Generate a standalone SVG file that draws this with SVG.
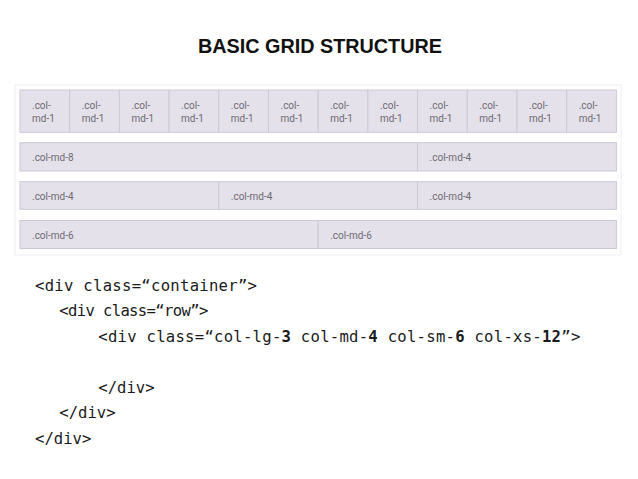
<svg xmlns="http://www.w3.org/2000/svg" width="638" height="479" viewBox="0 0 638 479">
<style>
.cell{fill:#e4e1ea;stroke:#cdc8d5;stroke-width:1}
.lbl{font-family:Roboto,"Liberation Sans",sans-serif;font-size:10px;fill:#6f6a72}
.code{font-family:"DejaVu Sans Mono","Liberation Mono",monospace;font-size:15.6px;fill:#1a1a1a}
.b{font-weight:bold}
</style>
<rect width="638" height="479" fill="#ffffff"/>
<text x="320" y="53" text-anchor="middle" font-family="'Liberation Sans',Arial,sans-serif" font-weight="bold" font-size="19.8" fill="#111">BASIC GRID STRUCTURE</text>
<g id="container">
<rect x="15" y="85" width="606" height="170" fill="#ffffff" stroke="#eceef2" stroke-width="1"/>
</g>
<g id="row1">
<rect class="cell" x="20" y="90" width="49.7" height="42.3"/>
<rect class="cell" x="69.7" y="90" width="49.7" height="42.3"/>
<rect class="cell" x="119.4" y="90" width="49.7" height="42.3"/>
<rect class="cell" x="169.1" y="90" width="49.7" height="42.3"/>
<rect class="cell" x="218.8" y="90" width="49.7" height="42.3"/>
<rect class="cell" x="268.5" y="90" width="49.7" height="42.3"/>
<rect class="cell" x="318.2" y="90" width="49.7" height="42.3"/>
<rect class="cell" x="367.9" y="90" width="49.7" height="42.3"/>
<rect class="cell" x="417.6" y="90" width="49.7" height="42.3"/>
<rect class="cell" x="467.3" y="90" width="49.7" height="42.3"/>
<rect class="cell" x="517" y="90" width="49.7" height="42.3"/>
<rect class="cell" x="566.7" y="90" width="49.7" height="42.3"/>
<g class="lbl">
<text x="32" y="108.5">.col-</text><text x="32" y="121.5">md-1</text>
<text x="81.7" y="108.5">.col-</text><text x="81.7" y="121.5">md-1</text>
<text x="131.4" y="108.5">.col-</text><text x="131.4" y="121.5">md-1</text>
<text x="181.1" y="108.5">.col-</text><text x="181.1" y="121.5">md-1</text>
<text x="230.8" y="108.5">.col-</text><text x="230.8" y="121.5">md-1</text>
<text x="280.5" y="108.5">.col-</text><text x="280.5" y="121.5">md-1</text>
<text x="330.2" y="108.5">.col-</text><text x="330.2" y="121.5">md-1</text>
<text x="379.9" y="108.5">.col-</text><text x="379.9" y="121.5">md-1</text>
<text x="429.6" y="108.5">.col-</text><text x="429.6" y="121.5">md-1</text>
<text x="479.3" y="108.5">.col-</text><text x="479.3" y="121.5">md-1</text>
<text x="529" y="108.5">.col-</text><text x="529" y="121.5">md-1</text>
<text x="578.7" y="108.5">.col-</text><text x="578.7" y="121.5">md-1</text>
</g>
</g>
<g id="row2">
<rect class="cell" x="20" y="142.7" width="397.6" height="28.3"/>
<rect class="cell" x="417.6" y="142.7" width="198.8" height="28.3"/>
<text class="lbl" x="32" y="160.8">.col-md-8</text>
<text class="lbl" x="429.6" y="160.8">.col-md-4</text>
</g>
<g id="row3">
<rect class="cell" x="20" y="181.7" width="198.8" height="27.6"/>
<rect class="cell" x="218.8" y="181.7" width="198.8" height="27.6"/>
<rect class="cell" x="417.6" y="181.7" width="198.8" height="27.6"/>
<text class="lbl" x="32" y="199.5">.col-md-4</text>
<text class="lbl" x="230.8" y="199.5">.col-md-4</text>
<text class="lbl" x="429.6" y="199.5">.col-md-4</text>
</g>
<g id="row4">
<rect class="cell" x="20" y="220.5" width="298.2" height="28"/>
<rect class="cell" x="318.2" y="220.5" width="298.2" height="28"/>
<text class="lbl" x="32" y="238.5">.col-md-6</text>
<text class="lbl" x="330.2" y="238.5">.col-md-6</text>
</g>
<g id="code" class="code">
<text x="35" y="290.5" textLength="222" lengthAdjust="spacing">&lt;div class=“container”&gt;</text>
<text x="59.3" y="316" textLength="149" lengthAdjust="spacing">&lt;div class=“row”&gt;</text>
<text x="98.3" y="341.7" textLength="482" lengthAdjust="spacing">&lt;div class=“col-lg-<tspan class="b">3</tspan> col-md-<tspan class="b">4</tspan> col-sm-<tspan class="b">6</tspan> col-xs-<tspan class="b">12</tspan>”&gt;</text>
<text x="98.3" y="393">&lt;/div&gt;</text>
<text x="59.3" y="418.3">&lt;/div&gt;</text>
<text x="35" y="443.8">&lt;/div&gt;</text>
</g>
</svg>
